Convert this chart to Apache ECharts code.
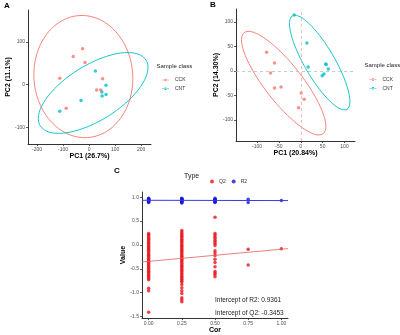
<!DOCTYPE html>
<html>
<head>
<meta charset="utf-8">
<script src="https://cdn.jsdelivr.net/npm/echarts@6/dist/echarts.min.js"></script>
<style>
html, body { margin: 0; padding: 0; background: #fff; }
#main { width: 400px; height: 335px; }
</style>
</head>
<body>
<div id="main"></div>
<script>
// panel A scores
var aCckX = [-25, -61, -16, -113, 52, 29, 45, -88];
var aCckY = [84, 66, 52, 15, 14, -12, -12, -55];
var aCntX = [24, 65, 49, 65, 50, -31, -113];
var aCntY = [32, -1, -17, -23, -26, -37, -62];

// panel B scores (two CNT samples overlap near 57,14)
var bCckX = [-78, -60, -69, -60, -45, 1, 8, -5];
var bCckY = [38, 16, -4, -35, -33, -45, -58, -75];
var bCntX = [-15, 14, 17, 57, 58, 63, 53, 49];
var bCntY = [114, 57, 8, 14, 13, 4, -6, -10];

// panel C permutation test
var corLevels = [0, 0.25, 0.5, 0.75, 1];
var q2Values = [
  [0.24, 0.22, 0.19, 0.16, 0.13, 0.11, 0.08, 0.05, 0.03, 0.00, -0.03, -0.06, -0.08, -0.11, -0.14, -0.17, -0.20, -0.22,
   -0.25, -0.28, -0.31, -0.34, -0.37, -0.40, -0.43, -0.46, -0.49, -0.52, -0.55, -0.58, -0.61, -0.64, -0.67, -0.70, -0.73,
   -0.91, -0.96, -1.41],
  [0.30, 0.27, 0.24, 0.21, 0.18, 0.15, 0.12, 0.09, 0.06, 0.03, 0.00, -0.03, -0.06, -0.09, -0.12, -0.15, -0.18, -0.21,
   -0.24, -0.27, -0.30, -0.33, -0.36, -0.39, -0.42, -0.45, -0.48, -0.51, -0.54, -0.57, -0.60, -0.63, -0.66, -0.69, -0.72,
   -0.75, -0.78, -0.83, -0.90, -0.96, -1.02, -1.11, -1.15, -1.19],
  [0.58, 0.24, 0.21, 0.17, 0.14, 0.10, 0.06, 0.03, -0.01, -0.12, -0.17, -0.22, -0.30, -0.37, -0.46, -0.56, -0.59, -0.62, -0.67],
  [-0.09, -0.42],
  [-0.08]
];
var r2Values = [
  [0.98, 0.97, 0.96, 0.95, 0.94, 0.93, 0.92, 0.91, 0.90, 0.89],
  [0.98, 0.97, 0.96, 0.95, 0.94, 0.93, 0.92, 0.91, 0.90, 0.89, 0.88],
  [0.98, 0.96, 0.95, 0.94, 0.93, 0.92, 0.91, 0.90, 0.89],
  [0.96, 0.89],
  [0.93]
];
var r2Intercept = 0.9361, r2Slope = -0.006;
var q2Intercept = -0.3453, q2Slope = 0.255;

var ticksAx = [-200, -100, 0, 100, 200];
var ticksAy = [-100, 0, 100];
var ticksB = [-100, -50, 0, 50, 100];
var ticksCx = [0, 0.25, 0.5, 0.75, 1];
var ticksCy = [-1.5, -1, -0.5, 0, 0.5, 1];

var RED = '#F8766D', TEAL = '#00BFC4';
var FONT = 'Liberation Sans, Arial, sans-serif';
var KEY_ICON = 'path://M0,2h14v1.2h-14z M4.4,2.6a2.6,2.6 0 1,0 5.2,0a2.6,2.6 0 1,0 -5.2,0z';

// plain sample covariance
function covNorm(xs, ys) {
  var n = xs.length, mx = 0, my = 0, cxx = 0, cyy = 0, cxy = 0, i;
  for (i = 0; i < n; i++) { mx += xs[i] / n; my += ys[i] / n; }
  for (i = 0; i < n; i++) {
    cxx += (xs[i] - mx) * (xs[i] - mx) / (n - 1);
    cyy += (ys[i] - my) * (ys[i] - my) / (n - 1);
    cxy += (xs[i] - mx) * (ys[i] - my) / (n - 1);
  }
  return { mx: mx, my: my, cxx: cxx, cyy: cyy, cxy: cxy };
}

// robust t covariance (same idea as MASS::cov.trob used by stat_ellipse)
function covTrob(xs, ys) {
  var n = xs.length, nu = 5, p = 2, i, it;
  var mx = 0, my = 0;
  for (i = 0; i < n; i++) { mx += xs[i] / n; my += ys[i] / n; }
  var w = [], cxx = 0, cyy = 0, cxy = 0;
  for (i = 0; i < n; i++) w.push(1);
  for (it = 0; it < 25; it++) {
    var w0 = w.slice(), dx = [], dy = [], sw = 0, sxx = 0, syy = 0, sxy = 0;
    for (i = 0; i < n; i++) { dx.push(xs[i] - mx); dy.push(ys[i] - my); sw += w[i]; }
    for (i = 0; i < n; i++) {
      sxx += w[i] * dx[i] * dx[i] / sw; syy += w[i] * dy[i] * dy[i] / sw; sxy += w[i] * dx[i] * dy[i] / sw;
    }
    var det = sxx * syy - sxy * sxy;
    w = [];
    for (i = 0; i < n; i++) {
      var q = (syy * dx[i] * dx[i] - 2 * sxy * dx[i] * dy[i] + sxx * dy[i] * dy[i]) / det;
      w.push((nu + p) / (nu + q));
    }
    var sw2 = 0, nx = 0, ny = 0;
    for (i = 0; i < n; i++) { sw2 += w[i]; nx += w[i] * xs[i]; ny += w[i] * ys[i]; }
    mx = nx / sw2; my = ny / sw2;
    cxx = 0; cyy = 0; cxy = 0;
    for (i = 0; i < n; i++) {
      cxx += w[i] * dx[i] * dx[i] / n; cyy += w[i] * dy[i] * dy[i] / n; cxy += w[i] * dx[i] * dy[i] / n;
    }
    var done = true;
    for (i = 0; i < n; i++) if (Math.abs(w[i] - w0[i]) > 1e-4) done = false;
    if (done) break;
  }
  return { mx: mx, my: my, cxx: cxx, cyy: cyy, cxy: cxy };
}

// 95% ellipse
function ellipse(xs, ys, robust) {
  var v = robust ? covTrob(xs, ys) : covNorm(xs, ys);
  var d = xs.length - 1, level = 0.95;
  var r = Math.sqrt(d * (Math.pow(1 - level, -2 / d) - 1));
  var a = Math.sqrt(v.cxx), b = v.cxy / a, c = Math.sqrt(v.cyy - b * b);
  var pts = [];
  for (var k = 0; k <= 72; k++) {
    var t = k / 72 * 2 * Math.PI;
    pts.push([v.mx + r * a * Math.cos(t), v.my + r * (b * Math.cos(t) + c * Math.sin(t))]);
  }
  return pts;
}

function zip(xs, ys) {
  return xs.map(function (x, i) { return [x, ys[i]]; });
}

function stack(values) {
  var out = [];
  values.forEach(function (col, i) {
    col.forEach(function (v) { out.push([corLevels[i], v]); });
  });
  return out;
}

function fit(b0, b1) {
  return [[-0.05, b0 + b1 * -0.05], [1.05, b0 + b1 * 1.05]];
}

function axis(grid, min, max, ticks, name, gap, fmt) {
  return {
    type: 'value', gridIndex: grid, min: min, max: max,
    name: name, nameLocation: 'middle', nameGap: gap,
    nameTextStyle: { fontFamily: FONT, fontSize: 7, fontWeight: 'bold', color: '#000' },
    axisLine: { show: true, onZero: false, lineStyle: { color: '#333', width: 1 } },
    axisTick: { show: true, length: 2, customValues: ticks, lineStyle: { color: '#333', width: 0.8 } },
    axisLabel: { customValues: ticks, fontFamily: FONT, fontSize: 5, color: '#4d4d4d', margin: 3,
      formatter: fmt || function (v) { return String(v); } },
    splitLine: { show: false }
  };
}

function keyLegend(left, top) {
  return { data: ['CCK', 'CNT'], orient: 'vertical', left: left, top: top, icon: KEY_ICON,
    itemWidth: 7, itemHeight: 2.6, itemGap: 3.8,
    textStyle: { fontFamily: FONT, fontSize: 5, color: '#333', padding: [0, 0, 0, 1] } };
}

var chart = echarts.init(document.getElementById('main'));

var option = {
  animation: false,
  backgroundColor: '#fff',
  grid: [
    { left: 28, top: 10, width: 123, height: 134 },
    { left: 236, top: 9, width: 119, height: 132 },
    { left: 142, top: 192, width: 146, height: 127 }
  ],
  xAxis: [
    axis(0, -235, 238, ticksAx, 'PC1 (26.7%)', 8),
    axis(1, -148, 124, ticksB, 'PC1 (20.84%)', 8),
    axis(2, -0.05, 1.05, ticksCx, 'Cor', 7, function (v) { return v.toFixed(2); })
  ],
  yAxis: [
    axis(0, -138, 174, ticksAy, 'PC2 (11.1%)', 13),
    axis(1, -143, 126.5, ticksB, 'PC2 (14.30%)', 12.5),
    axis(2, -1.535, 1.11, ticksCy, 'Value', 15.5, function (v) { return v.toFixed(1); })
  ],
  legend: [
    keyLegend(157, 72.5),
    keyLegend(364.5, 72),
    { data: ['Q2', 'R2'], orient: 'horizontal', left: 205, top: 174, icon: 'circle', itemWidth: 4, itemHeight: 4, itemGap: 6,
      textStyle: { fontFamily: FONT, fontSize: 5, color: '#333' } }
  ],
  graphic: [
    { type: 'text', left: 4, top: 2, style: { text: 'A', font: 'bold 8px ' + FONT, fill: '#000' } },
    { type: 'text', left: 210, top: 1, style: { text: 'B', font: 'bold 8px ' + FONT, fill: '#000' } },
    { type: 'text', left: 114, top: 167, style: { text: 'C', font: 'bold 8px ' + FONT, fill: '#000' } },
    { type: 'text', left: 156.5, top: 63.5, style: { text: 'Sample class', font: '6px ' + FONT, fill: '#222' } },
    { type: 'text', left: 364.5, top: 62, style: { text: 'Sample class', font: '6px ' + FONT, fill: '#222' } },
    { type: 'text', left: 184, top: 173, style: { text: 'Type', font: '7px ' + FONT, fill: '#222' } },
    { type: 'text', left: 215, top: 296.5, style: { text: 'Intercept of R2: ' + r2Intercept, font: '6.5px ' + FONT, fill: '#222' } },
    { type: 'text', left: 215, top: 310, style: { text: 'Intercept of Q2: ' + q2Intercept, font: '6.5px ' + FONT, fill: '#222' } }
  ],
  series: [
    { name: 'CCK', type: 'line', xAxisIndex: 0, yAxisIndex: 0, data: ellipse(aCckX, aCckY, false), showSymbol: false,
      color: RED, lineStyle: { width: 0.9 } },
    { name: 'CNT', type: 'line', xAxisIndex: 0, yAxisIndex: 0, data: ellipse(aCntX, aCntY, false), showSymbol: false,
      color: TEAL, lineStyle: { width: 0.9 } },
    { name: 'CCK', type: 'scatter', xAxisIndex: 0, yAxisIndex: 0, data: zip(aCckX, aCckY), symbolSize: 3.5, color: RED },
    { name: 'CNT', type: 'scatter', xAxisIndex: 0, yAxisIndex: 0, data: zip(aCntX, aCntY), symbolSize: 3.5, color: TEAL },

    { name: 'CCK', type: 'line', xAxisIndex: 1, yAxisIndex: 1, data: ellipse(bCckX, bCckY, true), showSymbol: false,
      color: RED, lineStyle: { width: 0.9 } },
    { name: 'CNT', type: 'line', xAxisIndex: 1, yAxisIndex: 1, data: ellipse(bCntX, bCntY, true), showSymbol: false,
      color: TEAL, lineStyle: { width: 0.9 } },
    { name: 'CCK', type: 'scatter', xAxisIndex: 1, yAxisIndex: 1, data: zip(bCckX, bCckY), symbolSize: 3.5, color: RED,
      markLine: { silent: true, symbol: 'none', label: { show: false },
        lineStyle: { type: [3, 3], color: '#bdbdbd', width: 0.8 },
        data: [{ xAxis: 0, lineStyle: { color: '#f2aaaa' } }, { yAxis: 0 }] } },
    { name: 'CNT', type: 'scatter', xAxisIndex: 1, yAxisIndex: 1, data: zip(bCntX, bCntY), symbolSize: 3.5, color: TEAL },

    { name: 'Q2', type: 'scatter', xAxisIndex: 2, yAxisIndex: 2, data: stack(q2Values), symbolSize: 3.5, color: '#e8161b' },
    { name: 'R2', type: 'scatter', xAxisIndex: 2, yAxisIndex: 2, data: stack(r2Values), symbolSize: 3.5, color: '#1717d9' },
    { name: 'Q2 fit', type: 'line', xAxisIndex: 2, yAxisIndex: 2, data: fit(q2Intercept, q2Slope), showSymbol: false,
      color: '#e8161b', lineStyle: { width: 0.8, color: '#e46060' } },
    { name: 'R2 fit', type: 'line', xAxisIndex: 2, yAxisIndex: 2, data: fit(r2Intercept, r2Slope), showSymbol: false,
      color: '#1717d9', lineStyle: { width: 1, color: '#3a3ae0' } }
  ]
};

chart.setOption(option);
</script>
</body>
</html>
